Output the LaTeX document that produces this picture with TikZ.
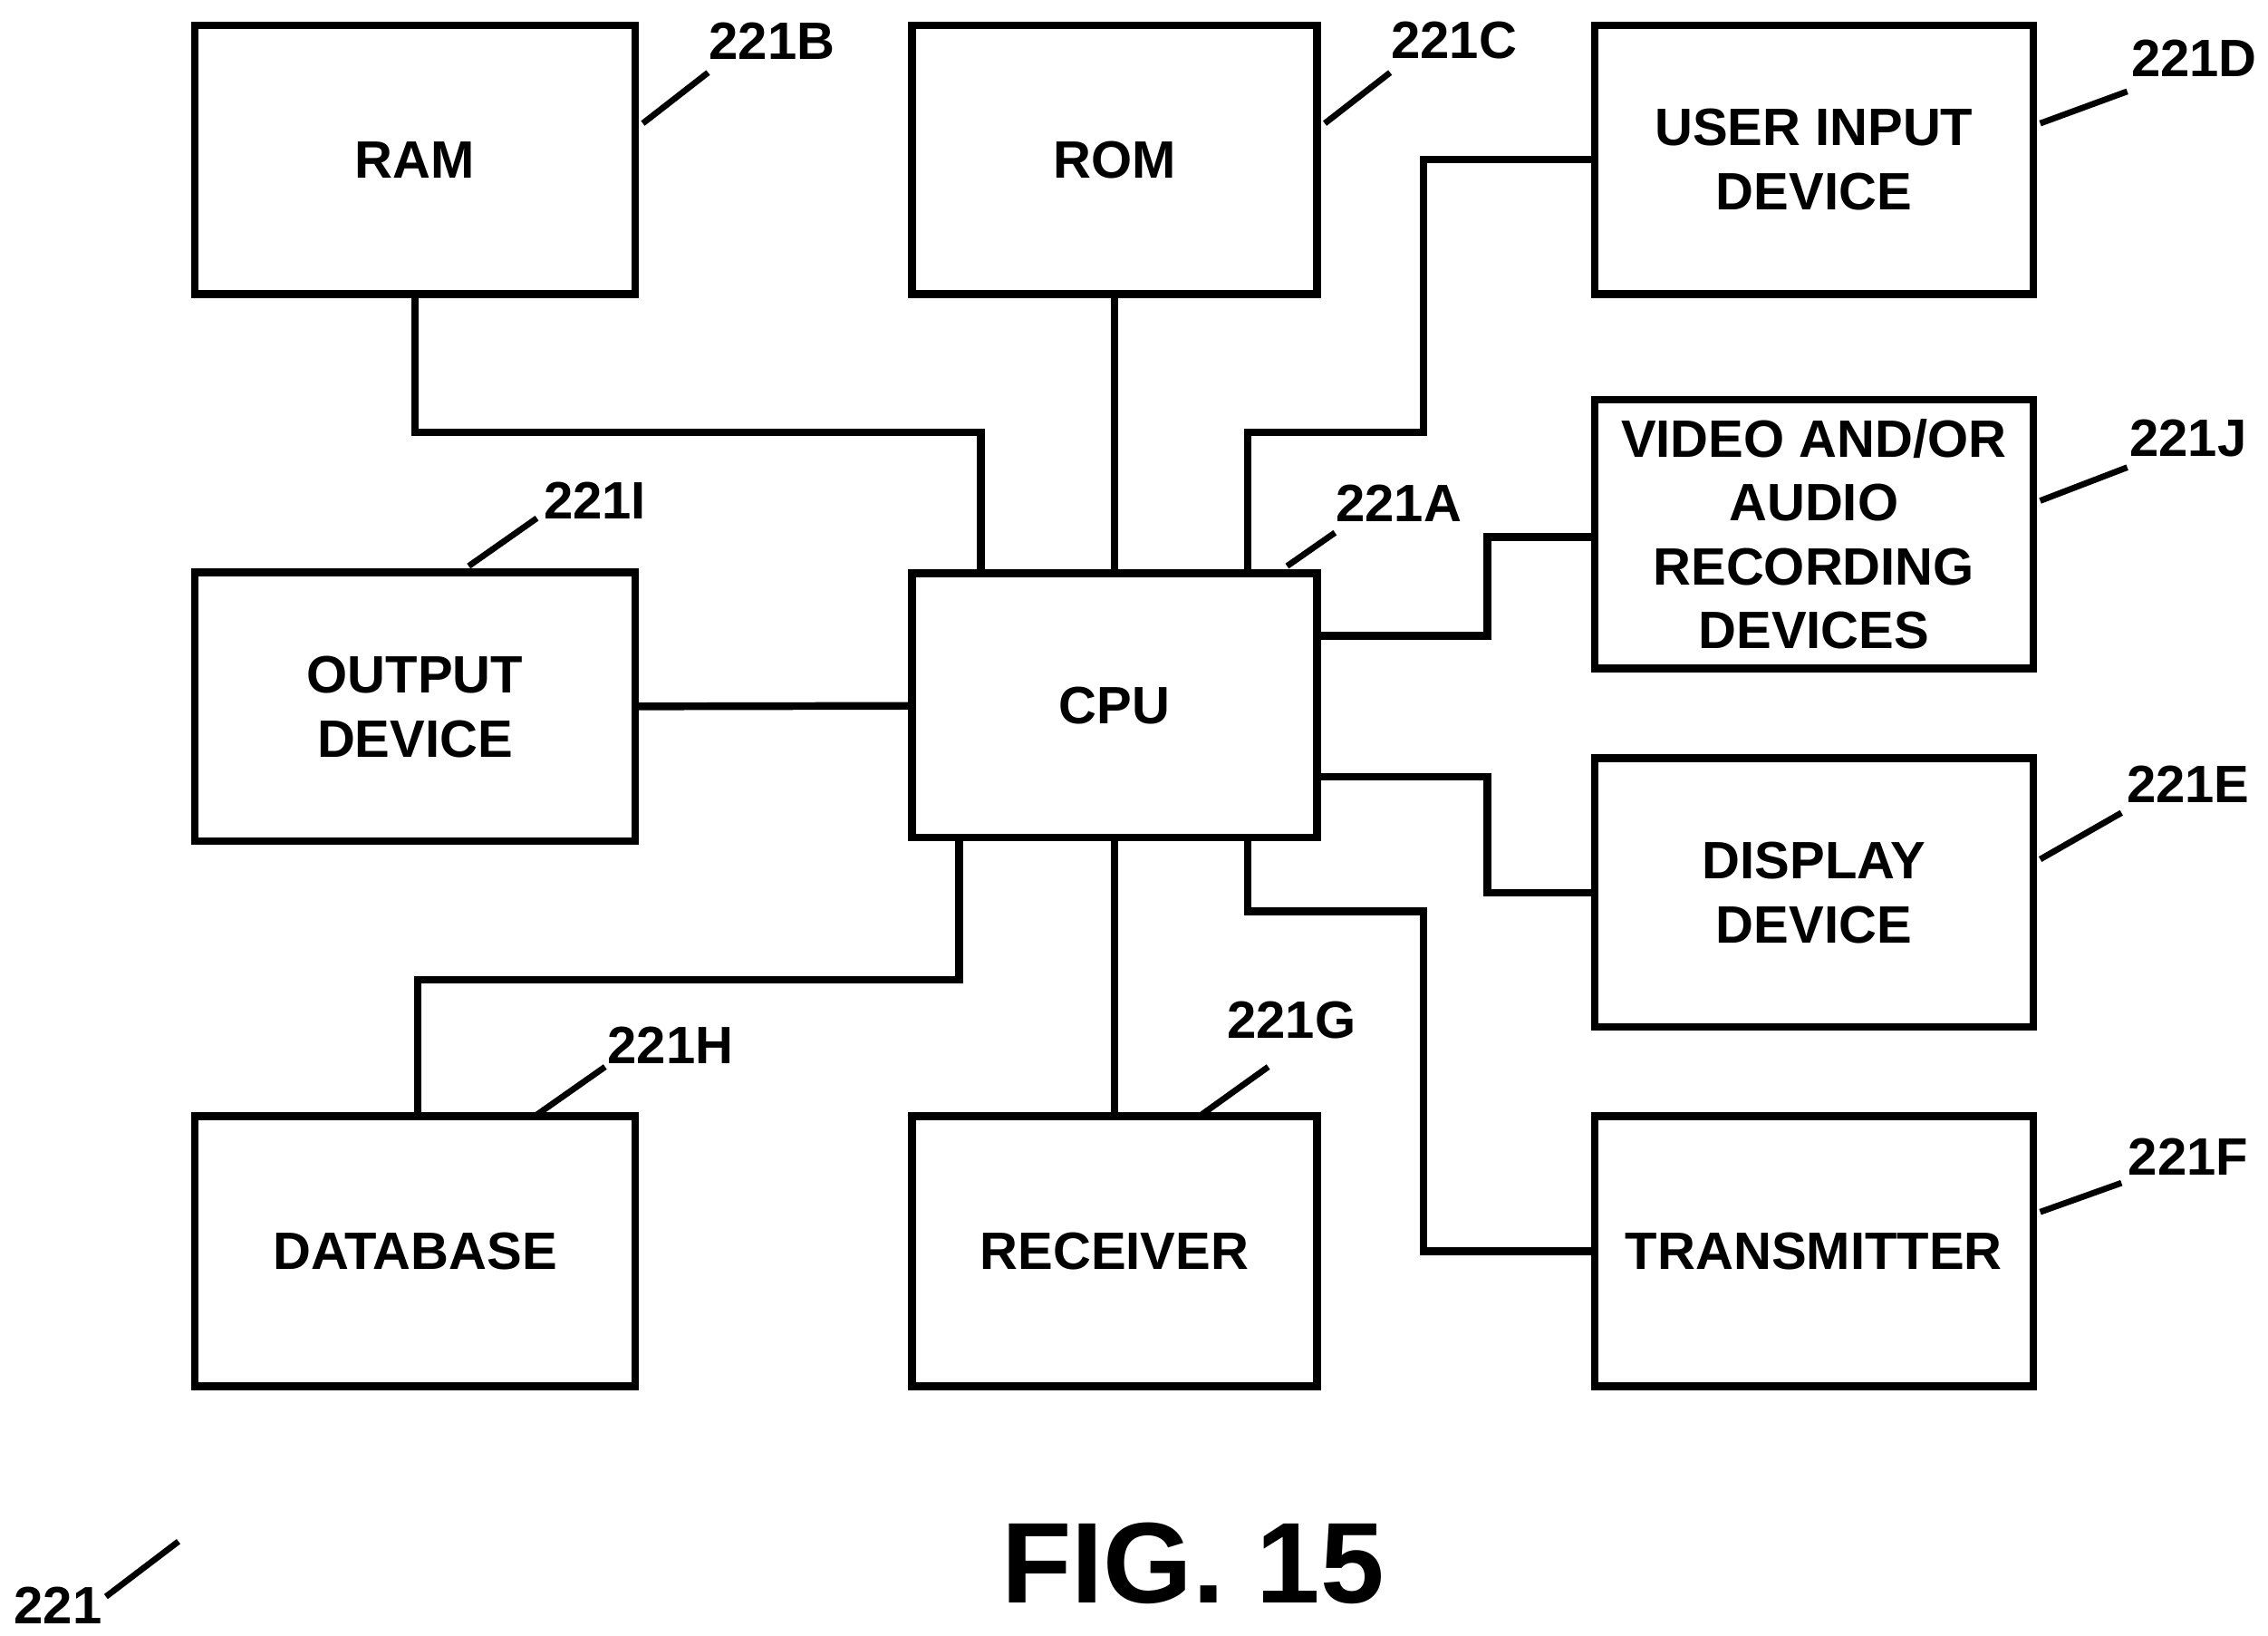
\documentclass[tikz,border=0pt]{standalone}
\usepackage{fontspec}
\setmainfont{Liberation Sans}
\begin{document}
\begin{tikzpicture}[x=0.01cm,y=-0.01cm,
  blk/.style={draw,line width=1.5pt,inner sep=0pt,align=center,font=\bfseries\fontsize{10.3}{12.5}\selectfont,minimum width=3.02cm,minimum height=1.85cm},
  wire/.style={line width=1.5pt},
  lead/.style={line width=1.2pt},
  tag/.style={font=\bfseries\fontsize{10.3}{12}\selectfont,inner sep=0pt}]
 \useasboundingbox (0,0) rectangle (1563,1127);

 % blocks
 \node[blk,minimum width=3.03cm] (ram) at (286,110) {RAM};
 \node[blk,minimum width=2.79cm] (rom) at (768,110) {ROM};
 \node[blk] (uid) at (1250,110) {USER INPUT\\DEVICE};
 \node[blk] (rec) at (1250,368) {VIDEO AND/OR\\AUDIO\\RECORDING\\DEVICES};
 \node[blk,minimum width=3.03cm] (out) at (286,487) {OUTPUT\\DEVICE};
 \node[blk,minimum width=2.79cm,minimum height=1.82cm] (cpu) at (768,486) {CPU};
 \node[blk] (disp) at (1250,615) {DISPLAY\\DEVICE};
 \node[blk,minimum width=3.03cm,minimum height=1.86cm] (db) at (286,862) {DATABASE};
 \node[blk,minimum width=2.79cm,minimum height=1.86cm] (rcv) at (768,862) {RECEIVER};
 \node[blk,minimum height=1.86cm] (tx) at (1250,862) {TRANSMITTER};

 % connectors
 \draw[wire] (ram.south) |- (676,298) -- (cpu.north -| 676,0);
 \draw[wire] (rom) -- (cpu);
 \draw[wire] (cpu.north -| 860,0) |- (981,298) |- (uid.west);
 \draw[wire] (cpu.east |- 0,438) -| (1025,370) -- (rec.west |- 0,370);
 \draw[wire] (cpu.east |- 0,535) -| (1025,615) -- (disp.west);
 \draw[wire] (cpu.south -| 860,0) |- (981,628) |- (tx.west);
 \draw[wire] (cpu) -- (rcv);
 \draw[wire] (cpu.south -| 661,0) |- (288,675) -- (db.north -| 288,0);
 \draw[wire] (out) -- (cpu);

 % reference labels
 \draw[lead] (443,85) -- (488,50);   \node[tag] (lb) at (532,28) {221B};
 \draw[lead] (913,85) -- (958,50);   \node[tag] (lc) at (1002,28) {221C};
 \draw[lead] (1406,85) -- (1466,63); \node[tag] (ld) at (1512,40) {221D};
 \draw[lead] (1406,345) -- (1466,322); \node[tag] (lj) at (1508,302) {221J};
 \draw[lead] (1406,592) -- (1462,560); \node[tag] (le) at (1508,540) {221E};
 \draw[lead] (1406,835) -- (1462,815); \node[tag] (lf) at (1508,797) {221F};
 \draw[lead] (887,390) -- (920,367);  \node[tag] (la) at (964,347) {221A};
 \draw[lead] (323,390) -- (370,357);  \node[tag] (li) at (410,345) {221I};
 \draw[lead] (370,768) -- (417,735);  \node[tag] (lh) at (462,720) {221H};
 \draw[lead] (828,768) -- (874,735);  \node[tag] (lg) at (890,703) {221G};
 \draw[lead] (73,1100) -- (123,1062); \node[tag] (lfig) at (40,1106) {221};

 \node[font=\bfseries\fontsize{22.5}{27}\selectfont,inner sep=0pt] (fig) at (822,1077) {FIG. 15};
\end{tikzpicture}
\end{document}
